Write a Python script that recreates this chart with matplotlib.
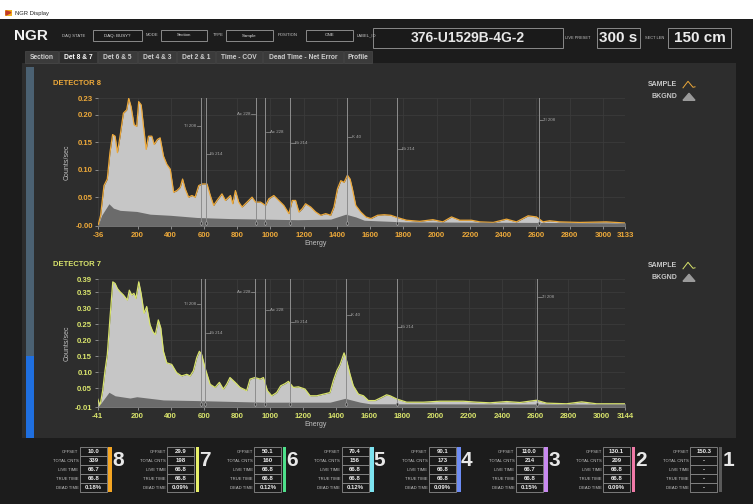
import matplotlib.pyplot as plt
from matplotlib.patches import Rectangle, Polygon

plt.rcParams['font.family'] = ['Liberation Sans', 'DejaVu Sans']

# spectra (energy in keV, counts/sec)
det8_energy = [-36, -22, -2, 18, 34, 50, 65, 79, 95, 115, 135, 147, 161, 179, 195, 207, 222, 236,
               252, 266, 286, 300, 320, 336, 356, 376, 397, 417, 437, 457, 471, 487, 507, 527, 547,
               568, 588, 618, 638, 658, 678, 708, 729, 759, 773, 789, 809, 829, 859, 889, 910, 940,
               970, 990, 1020, 1050, 1080, 1111, 1131, 1151, 1171, 1191, 1211, 1242, 1272, 1302,
               1332, 1362, 1382, 1403, 1423, 1443, 1463, 1479, 1493, 1513, 1543, 1574, 1604, 1644,
               1684, 1724, 1762, 1819, 1898, 1977, 2037, 2089, 2139, 2209, 2260, 2340, 2420, 2480,
               2550, 2600, 2640, 2680, 2740, 2860, 3020, 3133]
det8_sample = [0.0, 0.017, 0.071, 0.083, 0.131, 0.164, 0.161, 0.131, 0.161, 0.203, 0.209, 0.230,
               0.215, 0.182, 0.179, 0.224, 0.218, 0.179, 0.137, 0.161, 0.161, 0.146, 0.155, 0.158,
               0.125, 0.110, 0.101, 0.059, 0.062, 0.068, 0.083, 0.065, 0.050, 0.053, 0.050, 0.071,
               0.074, 0.074, 0.053, 0.035, 0.044, 0.056, 0.044, 0.053, 0.038, 0.062, 0.041, 0.032,
               0.041, 0.050, 0.041, 0.041, 0.035, 0.047, 0.053, 0.044, 0.035, 0.020, 0.044, 0.044,
               0.023, 0.029, 0.038, 0.032, 0.023, 0.017, 0.020, 0.017, 0.032, 0.065, 0.080, 0.077,
               0.090, 0.083, 0.065, 0.035, 0.023, 0.014, 0.011, 0.017, 0.018, 0.017, 0.013, 0.008,
               0.006, 0.009, 0.005, 0.014, 0.008, 0.008, 0.005, 0.004, 0.010, 0.005, 0.016, 0.014,
               0.005, 0.007, 0.005, 0.004, 0.005, 0.003]
det8_bg_energy = [-36, -16, 28, 55, 95, 195, 276, 397, 558, 759, 1161, 1362, 1453, 1513, 1564,
                  1800, 2600, 3133]
det8_bg = [0.0, 0.017, 0.038, 0.030, 0.026, 0.024, 0.019, 0.017, 0.013, 0.011, 0.009, 0.010,
           0.019, 0.014, 0.008, 0.005, 0.004, 0.003]

det7_energy = [-41, -27, -11, 3, 17, 33, 50, 64, 78, 94, 114, 138, 150, 164, 178, 190, 207, 221,
               239, 255, 275, 291, 307, 325, 340, 356, 376, 406, 436, 466, 497, 517, 537, 557, 573,
               587, 607, 638, 668, 694, 718, 738, 758, 789, 819, 859, 879, 909, 940, 960, 984, 1010,
               1040, 1064, 1091, 1111, 1141, 1171, 1211, 1242, 1282, 1322, 1362, 1382, 1403, 1423,
               1447, 1463, 1483, 1503, 1534, 1564, 1594, 1634, 1674, 1704, 1725, 1765, 1825, 1926,
               2026, 2167, 2248, 2328, 2429, 2509, 2610, 2670, 2791, 2882, 2972, 3144]
det7_sample = [0.016, -0.005, 0.042, 0.104, 0.155, 0.268, 0.382, 0.377, 0.361, 0.351, 0.341, 0.325,
               0.356, 0.341, 0.346, 0.330, 0.382, 0.346, 0.284, 0.305, 0.248, 0.227, 0.217, 0.263,
               0.238, 0.165, 0.129, 0.124, 0.098, 0.088, 0.093, 0.088, 0.104, 0.145, 0.165, 0.155,
               0.114, 0.062, 0.052, 0.068, 0.047, 0.062, 0.083, 0.068, 0.052, 0.042, 0.078, 0.083,
               0.078, 0.083, 0.042, 0.026, 0.036, 0.057, 0.064, 0.071, 0.052, 0.054, 0.047, 0.026,
               0.026, 0.031, 0.036, 0.073, 0.104, 0.124, 0.160, 0.135, 0.093, 0.057, 0.031, 0.026,
               0.011, 0.011, 0.021, 0.029, 0.026, 0.016, 0.006, 0.006, 0.009, 0.009, 0.006, 0.004,
               0.008, 0.005, 0.012, 0.003, 0.001, 0.007, 0.001, 0.001]
det7_bg_energy = [-41, -17, 27, 64, 154, 195, 356, 557, 960, 1362, 1453, 1544, 1604, 3144]
det7_bg = [-0.01, 0.006, 0.037, 0.026, 0.019, 0.023, 0.013, 0.011, 0.006, 0.006, 0.018, 0.006,
           0.001, 0.0]

peak_energy = [583, 609, 911, 969, 1120, 1460, 1764, 2614]
peak_name = ['Tl 208', 'Bi 214', 'Ac 228', 'Ac 228', 'Bi 214', 'K 40', 'Bi 214', 'Tl 208']
peak_left = [True, False, True, False, False, False, False, False]
peak_lab_8 = [0.78, 0.56, 0.88, 0.74, 0.65, 0.70, 0.60, 0.83]
peak_lab_7 = [0.81, 0.58, 0.90, 0.76, 0.67, 0.72, 0.63, 0.86]

tabs = ['Section', 'Det 8 & 7', 'Det 6 & 5', 'Det 4 & 3', 'Det 2 & 1', 'Time - COV',
        'Dead Time - Net Error', 'Profile']
tab_edges = [25, 59, 98, 138, 177, 216, 263, 344, 373]

det_ids = [8, 7, 6, 5, 4, 3, 2, 1]
row_names = ['OFFSET', 'TOTAL CNTS', 'LIVE TIME', 'TRUE TIME', 'DEAD TIME']
det_offset = ['10.0', '29.9', '50.1', '70.4', '90.1', '110.0', '130.1', '150.3']
det_total = ['339', '198', '160', '156', '173', '214', '209', '-']
det_live = ['66.7', '66.8', '66.8', '66.8', '66.8', '66.7', '66.8', '-']
det_true = ['66.8', '66.8', '66.8', '66.8', '66.8', '66.8', '66.8', '-']
det_dead = ['0.18%', '0.09%', '0.12%', '0.12%', '0.09%', '0.15%', '0.09%', '-']
det_colors = ['#f5a623', '#e8f06a', '#4ee08a', '#7de3f0', '#6d8cf5', '#c98af0', '#f07aa8', '#5a5a5a']

W, H = 753, 504
BG = '#1c1c1c'
PANEL = '#2d2d2d'

fig = plt.figure(figsize=(W / 100, H / 100), dpi=100, facecolor=BG)
ui = fig.add_axes([0, 0, 1, 1])
ui.set_xlim(0, W)
ui.set_ylim(H, 0)
ui.axis('off')
ui.set_zorder(0)


def box(x, y, w, h, fc, ec='none', lw=0.7):
    ui.add_patch(Rectangle((x, y), w, h, facecolor=fc, edgecolor=ec, lw=lw))


def txt(x, y, s, size, color='#d8d8d8', ha='left', weight='normal'):
    ui.text(x, y, s, fontsize=size, color=color, ha=ha, va='center', fontweight=weight)


# title bar
box(0, 0, W, 19, '#ffffff')
box(5, 10, 7, 6, '#f2b01e')
ui.add_patch(Polygon([(6, 15), (11, 12.5), (6, 11)], color='#c0392b'))
txt(15, 13, 'NGR Display', 4.2, '#202020')

# header
txt(14, 36, 'NGR', 11, '#f2f2f2', weight='bold')
for lab, lx in [('DAQ STATE', 62), ('MODE', 146), ('TYPE', 213), ('POSITION', 278), ('LABEL_ID', 357)]:
    txt(lx, 35.5, lab, 3.0, '#c8c8c8')
for x0, x1, s in [(93, 142, 'DAQ: BUSY?'), (161, 207, 'Section'), (226, 273, 'Sample'), (306, 353, 'ONE')]:
    box(x0, 30, x1 - x0, 11, '#1a1a1a', '#8a8a8a')
    txt((x0 + x1) / 2, 35.5, s, 3.2, '#e0e0e0', ha='center')
box(373, 28, 190, 20, '#1a1a1a', '#8a8a8a')
txt(468, 38.5, '376-U1529B-4G-2', 10, '#e6e6e6', ha='center', weight='bold')
txt(565, 38, 'LIVE PRESET', 2.8, '#c8c8c8')
box(597, 28, 43, 20, '#1a1a1a', '#8a8a8a')
txt(618.5, 38.5, '300 s', 11, '#ececec', ha='center', weight='bold')
txt(645, 38, 'SECT LEN', 2.8, '#c8c8c8')
box(668, 28, 63, 20, '#1a1a1a', '#8a8a8a')
txt(699.5, 38.5, '150 cm', 11, '#ececec', ha='center', weight='bold')

# tabs and main panel
box(22, 63, 714, 375, PANEL)
for i, name in enumerate(tabs):
    x0, x1 = tab_edges[i], tab_edges[i + 1] - 1
    sel = name == 'Det 8 & 7'
    box(x0, 51, x1 - x0, 12, PANEL if sel else '#3b3b3b', '#4a4a4a', 0.5)
    txt((x0 + x1) / 2, 57.5, name, 4.8, '#ffffff' if sel else '#cfcfcf', ha='center', weight='bold')
box(26, 67, 8, 289, '#4b6172')
box(26, 356, 8, 82, '#1f6fe0')


def spectrum(top, bottom, left, right, energy, sample, bg_e, bg, xlim, ylim, yticks, ylabels,
             color, lab_h, title):
    ax = fig.add_axes([left / W, 1 - bottom / H, (right - left) / W, (bottom - top) / H])
    ax.set_zorder(2)
    ax.set_facecolor('none')
    ax.fill_between(energy, sample, ylim[0], color='#c6c6c6', lw=0, zorder=2)
    ax.plot(energy, sample, color=color, lw=0.9, zorder=3)
    ax.fill_between(bg_e, bg, ylim[0], color='#6b6b6b', lw=0, zorder=4)
    ax.set_xlim(xlim)
    ax.set_ylim(ylim)
    xt = [xlim[0]] + list(range(200, 3001, 200)) + [xlim[1]]
    ax.set_xticks(xt)
    ax.set_xticklabels([str(v) for v in xt])
    ax.set_yticks(yticks)
    ax.set_yticklabels(ylabels)
    ax.grid(color='#3b3b3b', lw=0.6)
    ax.set_axisbelow(True)
    for s in ax.spines.values():
        s.set_visible(False)
    ax.tick_params(colors='#9a9a9a', labelcolor=color, labelsize=5.6, length=2.5, width=0.6, pad=1.5)
    for lab in ax.get_xticklabels() + ax.get_yticklabels():
        lab.set_fontweight('bold')
    ax.set_ylabel('Counts/sec', color='#c0c0c0', fontsize=5)
    ax.yaxis.set_label_coords(-0.052, 0.5)
    ax.text(0.413, -0.135, 'Energy', transform=ax.transAxes, fontsize=5, color='#c0c0c0',
            ha='center', va='center')
    tr = ax.get_xaxis_transform()
    for e, name, left_side, h in zip(peak_energy, peak_name, peak_left, lab_h):
        ax.axvline(e, color='#8e8e8e', lw=0.7, zorder=5)
        ax.plot(e, 0.025, marker='d', ms=2.3, mfc=PANEL, mec='#a0a0a0', mew=0.5, transform=tr, zorder=6)
        if left_side:
            ax.plot([e - 26, e - 4], [h, h], color='#9a9a9a', lw=0.5, transform=tr)
            ax.text(e - 30, h, name, fontsize=3.2, color='#a8a8a8', ha='right', va='center', transform=tr)
        else:
            ax.plot([e + 4, e + 26], [h, h], color='#9a9a9a', lw=0.5, transform=tr)
            ax.text(e + 28, h, name, fontsize=3.2, color='#a8a8a8', ha='left', va='center', transform=tr)
    txt(53, top - 15, title, 5.5, color, weight='bold')
    # legend
    ly = top - 14
    txt(677, ly, 'SAMPLE', 5, '#c8c8c8', ha='right', weight='bold')
    ui.plot([683, 688, 693, 695], [ly + 3.5, ly - 3, ly + 3, ly + 2.5], color=color, lw=0.7)
    txt(677, ly + 12, 'BKGND', 5, '#c8c8c8', ha='right', weight='bold')
    ui.add_patch(Polygon([(683, ly + 16), (689, ly + 9), (695, ly + 16)], color='#9a9a9a'))
    return ax


spectrum(98.3, 226, 98.3, 625, det8_energy, det8_sample, det8_bg_energy, det8_bg,
         (-36, 3133), (-0.0025, 0.23), [-0.0025, 0.05, 0.10, 0.15, 0.20, 0.23],
         ['-0.00', '0.05', '0.10', '0.15', '0.20', '0.23'], '#eda93a', peak_lab_8, 'DETECTOR 8')
spectrum(279.3, 407.3, 97.7, 625, det7_energy, det7_sample, det7_bg_energy, det7_bg,
         (-41, 3144), (-0.01, 0.39), [-0.01, 0.05, 0.10, 0.15, 0.20, 0.25, 0.30, 0.35, 0.39],
         ['-0.01', '0.05', '0.10', '0.15', '0.20', '0.25', '0.30', '0.35', '0.39'],
         '#d9e46c', peak_lab_7, 'DETECTOR 7')

# detector status table
for i, det in enumerate(det_ids):
    nx = 118 + 87.2 * i
    br = nx - 11
    bl = br - 27
    vals = [det_offset[i], det_total[i], det_live[i], det_true[i], det_dead[i]]
    for k, (rn, v) in enumerate(zip(row_names, vals)):
        y0 = 447 + 9 * k
        box(bl, y0, br - bl, 9, '#1a1a1a', '#8a8a8a', 0.6)
        txt(bl - 1.5, y0 + 4.7, rn, 3.0, '#c4c4c4', ha='right')
        txt((bl + br) / 2, y0 + 4.5, v, 4.3, '#f0f0f0', ha='center', weight='bold')
    box(br + 1.5, 447, 3.5, 45, det_colors[i])
    txt(nx, 461, str(det), 15, '#e8e8e8', ha='center', weight='bold')

fig.savefig('out.png', dpi=100, facecolor=BG)
